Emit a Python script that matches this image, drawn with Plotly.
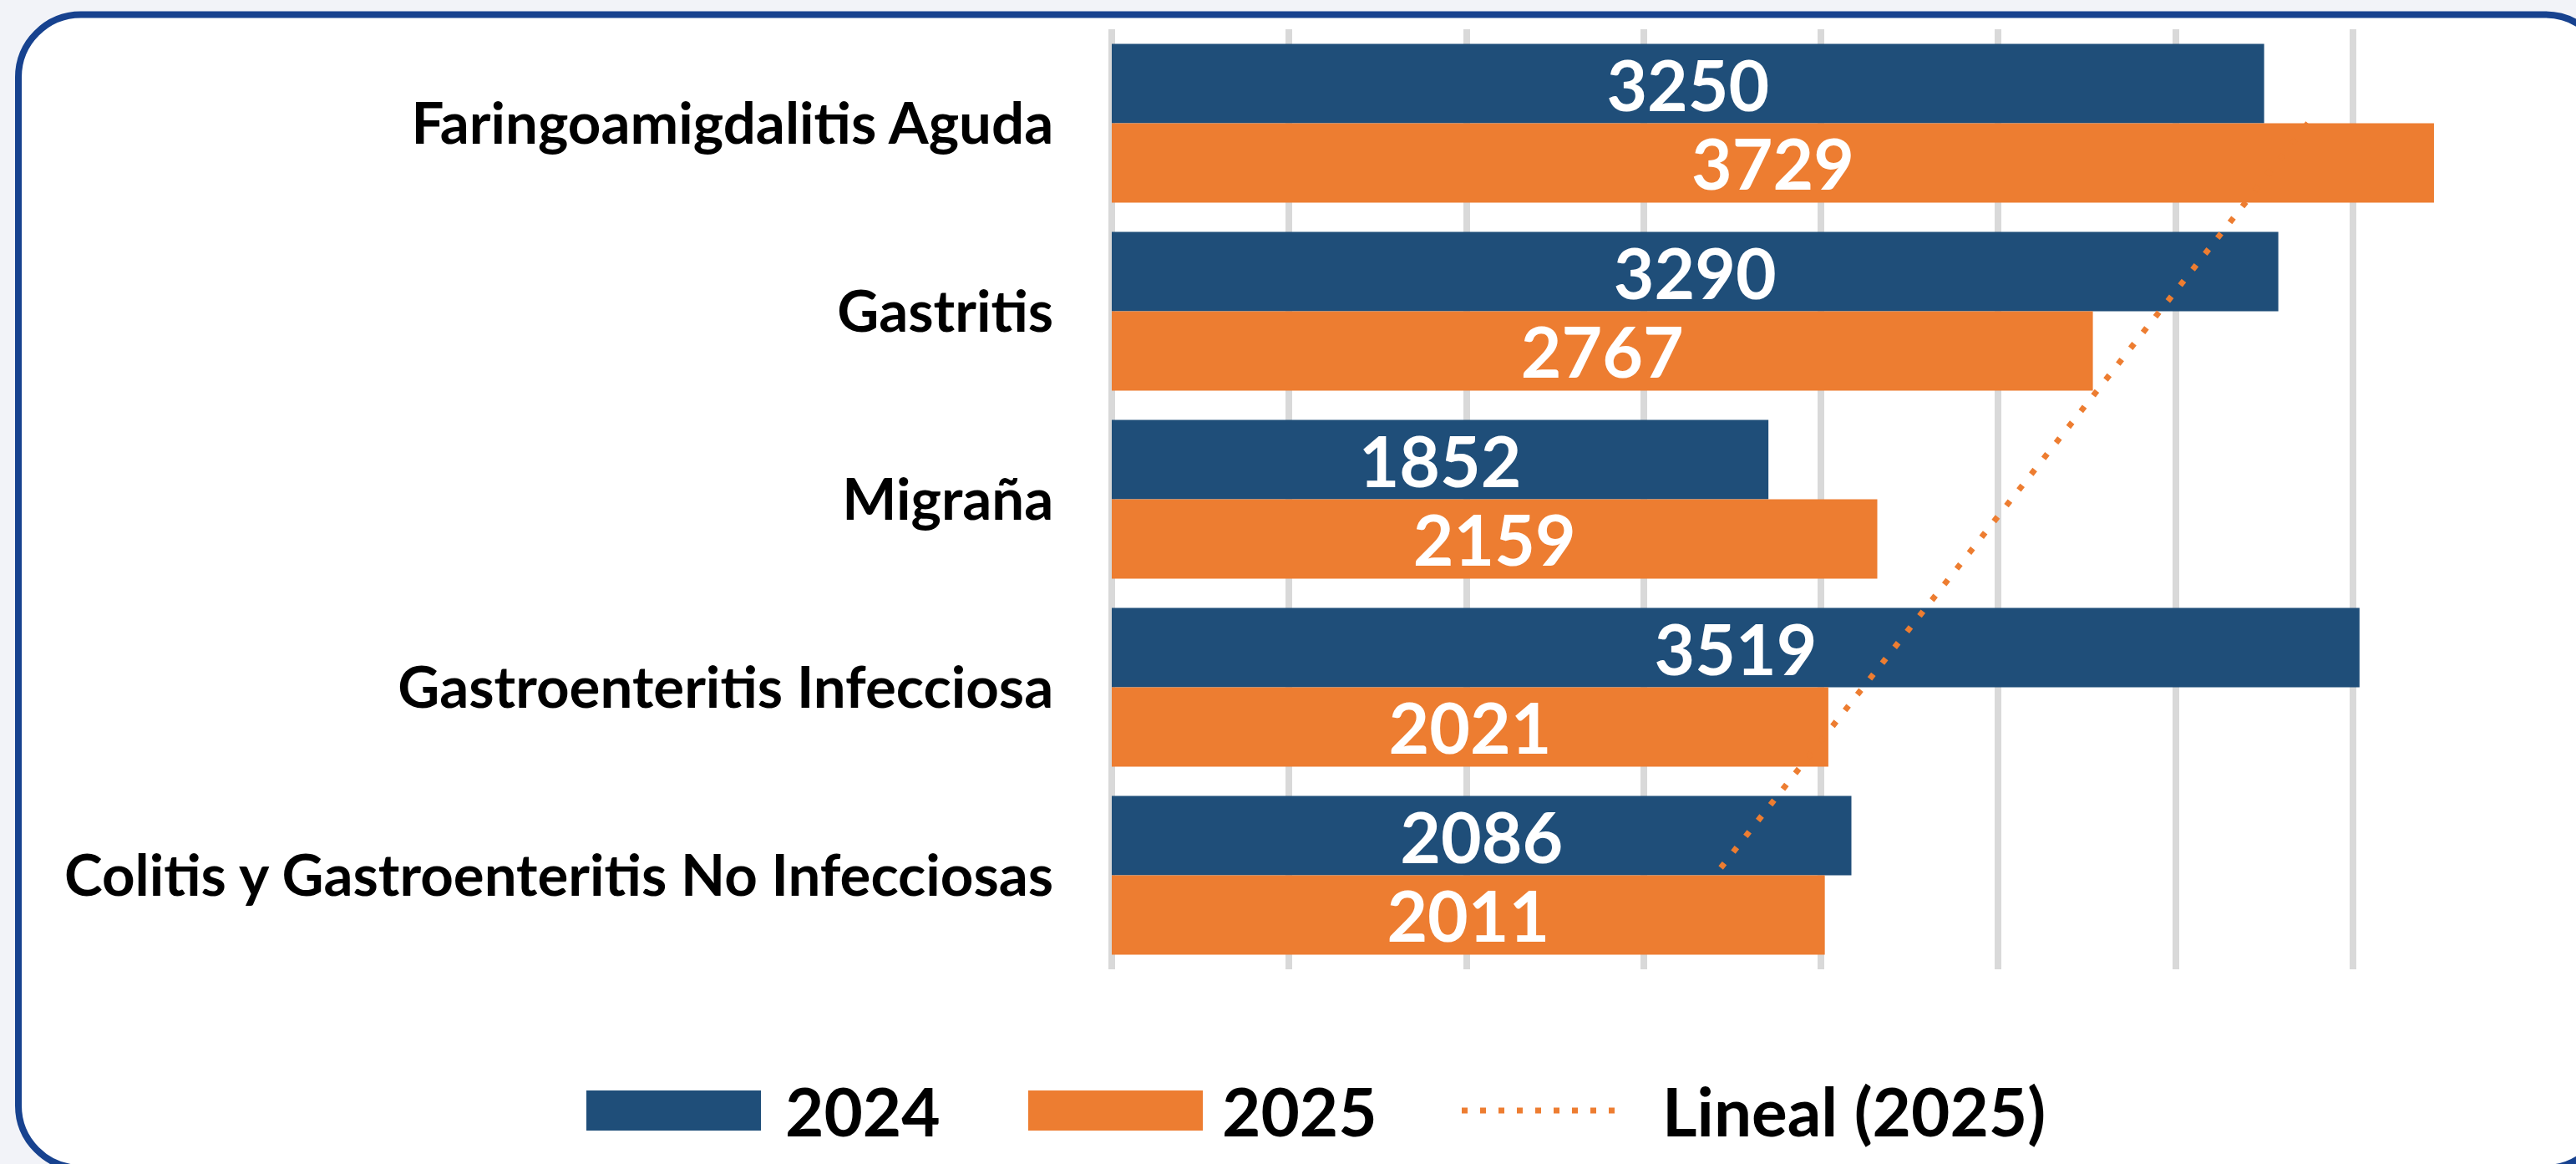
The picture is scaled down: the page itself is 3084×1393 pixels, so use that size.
import numpy as np
import plotly.graph_objects as go

# ---------------- data ----------------
categories = [
    "Faringoamigdalitis Aguda",
    "Gastritis",
    "Migraña",
    "Gastroenteritis Infecciosa",
    "Colitis y Gastroenteritis No Infecciosas",
]
values_2024 = [3250, 3290, 1852, 3519, 2086]
values_2025 = [3729, 2767, 2159, 2021, 2011]
series_names = ["2024", "2025"]
trend_name = "Lineal (2025)"

# ---------------- styles ----------------
W, H = 3084, 1393
ML, MR, MT, MB = 1331, 55, 35, 233
PW, PH = W - ML - MR, H - MT - MB
BLUE = "#1F4E79"
ORANGE = "#ED7D31"
GRID = "#D9D9D9"
BORDER = "#17428F"
BG = "#F2F3F8"
FONT = "Lato"


def px_x(px):
    return (px - ML) / PW


def px_y(py):
    return (H - MB - py) / PH


# linear trendline of 2025 over category positions (Excel style)
idx = np.arange(len(categories))
coef = np.polyfit(idx, np.array(values_2025, dtype=float), 1)
trend = np.polyval(coef, idx)

label_font = dict(family=FONT, size=84, color="white", weight="bold")

fig = go.Figure()
fig.add_trace(go.Bar(
    y=categories, x=values_2024, orientation="h", name=series_names[0],
    marker=dict(color=BLUE, line=dict(width=0)),
    text=[str(v) for v in values_2024], textposition="inside",
    insidetextanchor="middle", constraintext="none",
    textfont=label_font, showlegend=False,
))
fig.add_trace(go.Bar(
    y=categories, x=values_2025, orientation="h", name=series_names[1],
    marker=dict(color=ORANGE, line=dict(width=0)),
    text=[str(v) for v in values_2025], textposition="inside",
    insidetextanchor="middle", constraintext="none",
    textfont=label_font, showlegend=False,
))
fig.add_trace(go.Scatter(
    y=categories, x=trend, mode="lines", name=trend_name,
    line=dict(color=ORANGE, width=7, dash="7px,17px"),
    showlegend=False,
))

shapes = []
# rounded border (partly outside the image on the right / bottom)
x0, x1, y0, y1, r = 22, 3122, 17.5, 1398, 75
k = 0.5523 * r


def P(x, y):
    return f"{px_x(x):.6f},{px_y(y):.6f}"


path = (
    f"M{P(x0 + r, y0)} L{P(x1 - r, y0)} "
    f"C{P(x1 - r + k, y0)} {P(x1, y0 + r - k)} {P(x1, y0 + r)} "
    f"L{P(x1, y1 - r)} "
    f"C{P(x1, y1 - r + k)} {P(x1 - r + k, y1)} {P(x1 - r, y1)} "
    f"L{P(x0 + r, y1)} "
    f"C{P(x0 + r - k, y1)} {P(x0, y1 - r + k)} {P(x0, y1 - r)} "
    f"L{P(x0, y0 + r)} "
    f"C{P(x0, y0 + r - k)} {P(x0 + r - k, y0)} {P(x0 + r, y0)} Z"
)
shapes.append(dict(type="path", xref="paper", yref="paper", path=path,
                   fillcolor="white", line=dict(color=BORDER, width=8),
                   layer="below"))

# manual legend
leg_y = 1329
shapes.append(dict(type="rect", xref="paper", yref="paper",
                   x0=px_x(702), x1=px_x(911), y0=px_y(1353), y1=px_y(1305),
                   fillcolor=BLUE, line=dict(width=0)))
shapes.append(dict(type="rect", xref="paper", yref="paper",
                   x0=px_x(1231), x1=px_x(1440), y0=px_y(1353), y1=px_y(1305),
                   fillcolor=ORANGE, line=dict(width=0)))
shapes.append(dict(type="line", xref="paper", yref="paper",
                   x0=px_x(1750), x1=px_x(1940), y0=px_y(leg_y), y1=px_y(leg_y),
                   line=dict(color=ORANGE, width=7, dash="7px,15px")))

legend_font = dict(family=FONT, size=80, color="black", weight="bold")
annotations = [
    dict(xref="paper", yref="paper", x=px_x(938), y=px_y(leg_y),
         text=series_names[0], showarrow=False, xanchor="left",
         yanchor="middle", font=legend_font),
    dict(xref="paper", yref="paper", x=px_x(1461), y=px_y(leg_y),
         text=series_names[1], showarrow=False, xanchor="left",
         yanchor="middle", font=legend_font),
    dict(xref="paper", yref="paper", x=px_x(1988), y=px_y(leg_y),
         text=trend_name, showarrow=False, xanchor="left",
         yanchor="middle", font=legend_font),
]

fig.update_layout(
    width=W, height=H,
    margin=dict(l=ML, r=MR, t=MT, b=MB, pad=0),
    paper_bgcolor=BG, plot_bgcolor="rgba(0,0,0,0)",
    barmode="group", bargap=0.156, bargroupgap=0,
    shapes=shapes, annotations=annotations,
    showlegend=False,
    xaxis=dict(range=[0, 4000], dtick=500, tick0=0, showticklabels=False,
               showgrid=True, gridcolor=GRID, gridwidth=8,
               zeroline=True, zerolinecolor=GRID, zerolinewidth=8,
               showline=False, ticks=""),
    yaxis=dict(autorange="reversed", showgrid=False, zeroline=False,
               showline=False, ticks="outside", ticklen=55,
               tickcolor="rgba(0,0,0,0)",
               tickfont=dict(family=FONT, size=69, color="black",
                             weight="bold")),
)

fig.write_html(
    "out.html",
    config={"displayModeBar": False},
    post_script="document.body.style.margin='0';document.body.style.padding='0';",
)
